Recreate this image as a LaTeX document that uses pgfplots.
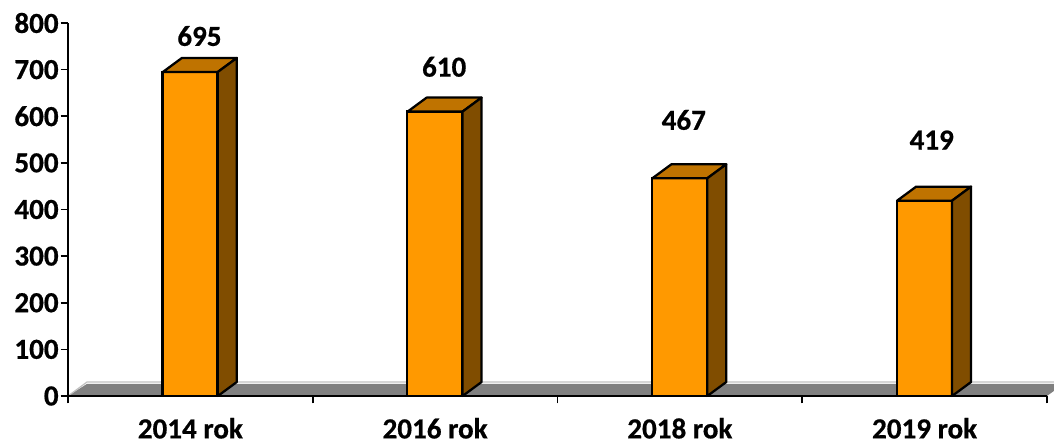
\documentclass[border=0pt]{standalone}
\usepackage{fontspec}
\setmainfont[BoldFeatures={FakeBold=0.6}]{Carlito}
\usepackage{pgfplots}
\pgfplotsset{compat=1.18}
\definecolor{barfront}{HTML}{FF9900}
\definecolor{bartop}{HTML}{BF7300}
\definecolor{barside}{HTML}{804D00}
\definecolor{floorgray}{HTML}{808080}
\definecolor{floorline}{HTML}{C0C0C0}
\begin{document}
\begin{tikzpicture}
% 1 px of the reference = 0.75pt, origin = axis corner at (68,396)
\useasboundingbox (-51pt,-33.75pt) rectangle (739.5pt,297pt);
\begin{axis}[
    scale only axis,
    width=734.25pt,
    height=279.75pt,
    xmin=-0.5, xmax=3.5,
    ymin=0, ymax=800,
    clip=false,
    axis on top,
    axis x line*=bottom,
    axis y line*=left,
    axis line style={line width=2pt, -},
    xtick={0,1,2,3},
    xticklabels={2014 rok,2016 rok,2018 rok,2019 rok},
    minor xtick={-0.5,0.5,1.5,2.5,3.5},
    ytick={0,100,...,800},
    tick align=outside,
    major tick length=5.5pt,
    minor tick length=5.5pt,
    major x tick style={draw=none},
    minor x tick style={line width=1.3pt, black},
    major y tick style={line width=1.3pt, black},
    tick label style={font=\fontsize{21.8}{24}\selectfont\bfseries},
    /pgf/number format/assume math mode=true,
    x tick label style={inner sep=0pt, yshift=-10.8pt},
    y tick label style={xshift=2pt},
]
% floor
\addplot[fill=floorgray, draw=none] coordinates {(-0.5,0) (-0.4224,26) (3.5286,26) (3.5286,11) (3.5,0)} --cycle;
\addplot[draw=floorline, line width=0.9pt] coordinates {(-0.5,0) (-0.4224,30) (3.5286,30)};
% front faces
\addplot[ybar, bar width=41.25pt, bar shift=-0.3pt, fill=barfront, draw=black, line width=1.7pt]
    coordinates {(0,695) (1,610) (2,467) (3,419)};
% top faces
\addplot[fill=bartop, draw=black, line width=1.7pt, line join=round] coordinates {(-0.1122,695) (-0.0346,725) (0.1898,725) (0.1122,695)} --cycle;
\addplot[fill=bartop, draw=black, line width=1.7pt, line join=round] coordinates {(0.8878,610) (0.9654,640) (1.1898,640) (1.1122,610)} --cycle;
\addplot[fill=bartop, draw=black, line width=1.7pt, line join=round] coordinates {(1.8878,467) (1.9654,497) (2.1898,497) (2.1122,467)} --cycle;
\addplot[fill=bartop, draw=black, line width=1.7pt, line join=round] coordinates {(2.8878,419) (2.9654,449) (3.1898,449) (3.1122,419)} --cycle;
% side faces
\addplot[fill=barside, draw=black, line width=1.7pt, line join=round] coordinates {(0.1122,0) (0.1898,30) (0.1898,725) (0.1122,695)} --cycle;
\addplot[fill=barside, draw=black, line width=1.7pt, line join=round] coordinates {(1.1122,0) (1.1898,30) (1.1898,640) (1.1122,610)} --cycle;
\addplot[fill=barside, draw=black, line width=1.7pt, line join=round] coordinates {(2.1122,0) (2.1898,30) (2.1898,497) (2.1122,467)} --cycle;
\addplot[fill=barside, draw=black, line width=1.7pt, line join=round] coordinates {(3.1122,0) (3.1898,30) (3.1898,449) (3.1122,419)} --cycle;
% value labels, placed by hand as in the original
\addplot[draw=none, mark=none, point meta=explicit symbolic,
    nodes near coords,
    every node near coord/.style={anchor=center, font=\fontsize{21.8}{24}\selectfont\bfseries}]
    coordinates {(0.037,772) [695] (1.037,706) [610] (2.016,592) [467] (3.029,549) [419]};
\end{axis}
\end{tikzpicture}
\end{document}
